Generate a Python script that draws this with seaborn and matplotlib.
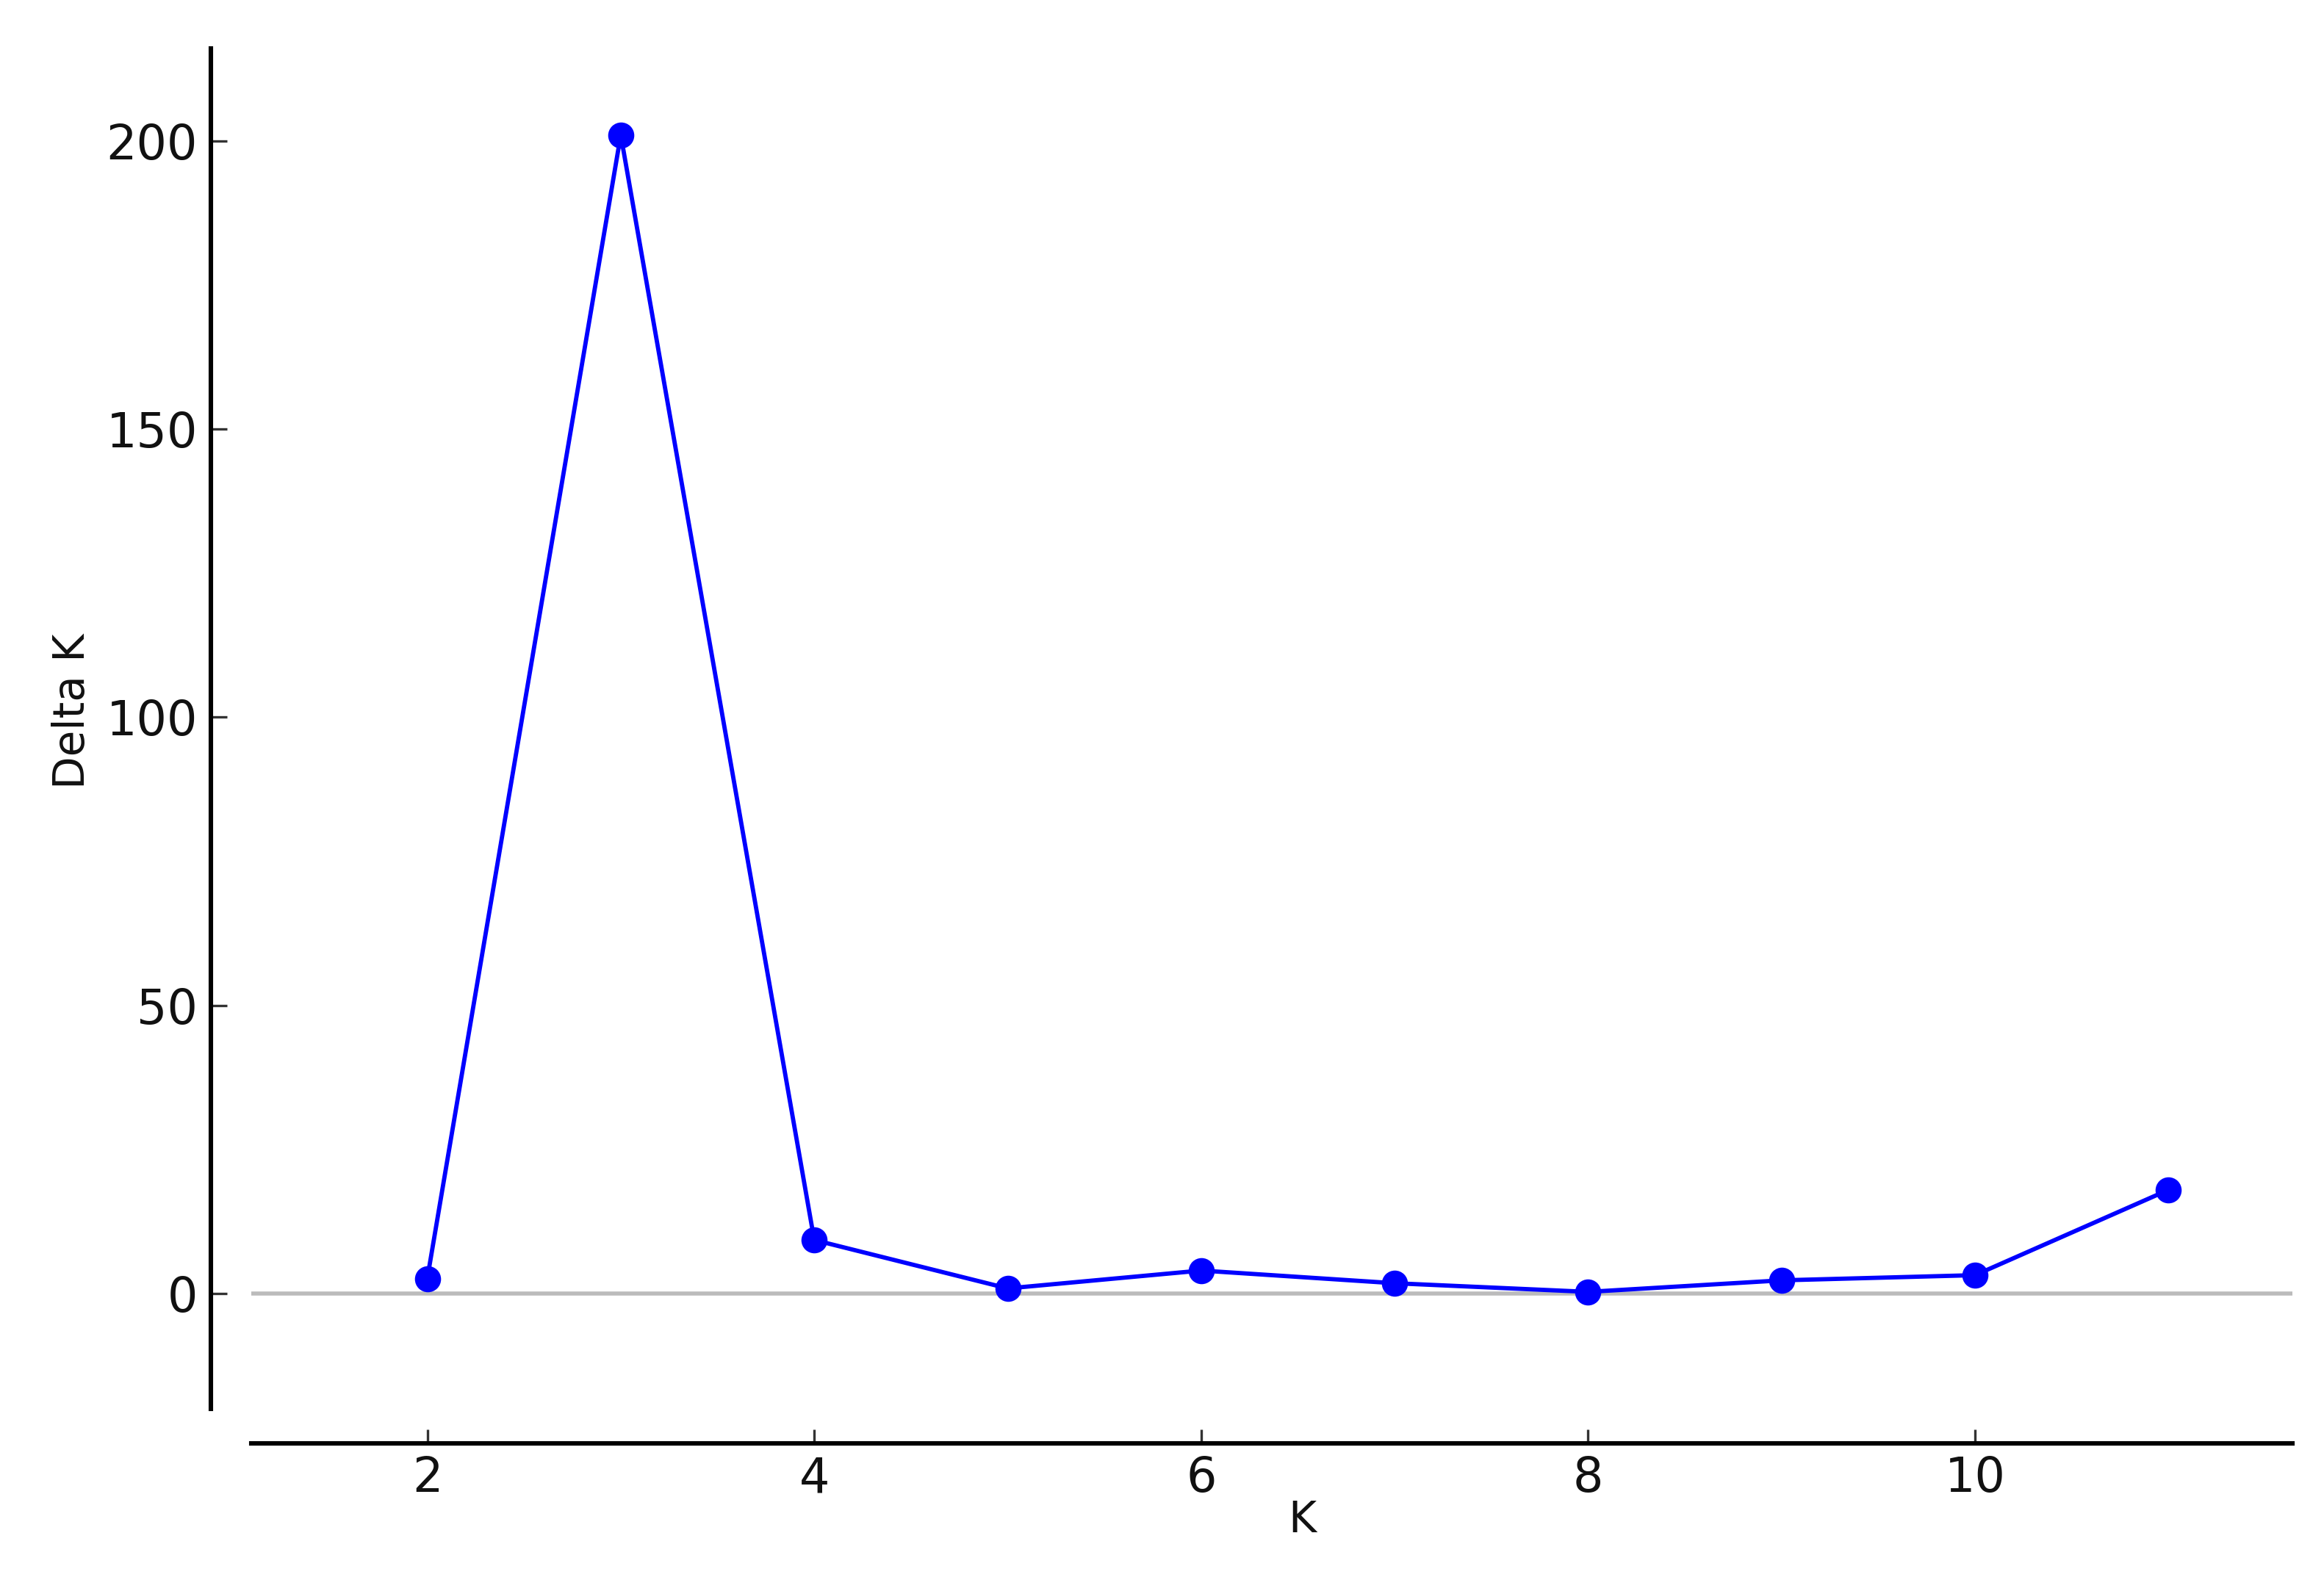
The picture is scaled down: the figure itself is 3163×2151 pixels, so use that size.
import matplotlib
matplotlib.use("Agg")
import matplotlib.pyplot as plt
import seaborn as sns
import pandas as pd

# Data
k_values = [2, 3, 4, 5, 6, 7, 8, 9, 10, 11]
delta_k = [2.6, 201.0, 9.3, 0.9, 4.0, 1.8, 0.3, 2.3, 3.2, 18.0]
x_ticks = [2, 4, 6, 8, 10]
y_ticks = [0, 50, 100, 150, 200]

df = pd.DataFrame({"K": k_values, "Delta K": delta_k})

sns.set_style("ticks")
plt.rcParams["font.family"] = ["DejaVu Sans"]

DPI = 200
fig = plt.figure(figsize=(3163 / DPI, 2151 / DPI), dpi=DPI)
ax = fig.add_axes([0.1081, 0.1083, 0.9864 - 0.1081, 0.9693 - 0.1083])

ax.axhline(0, color="#bbbbbb", lw=2.0, zorder=1)
sns.lineplot(data=df, x="K", y="Delta K", ax=ax, color="#0000ff", lw=2.1,
             marker="o", markersize=12.8, markeredgewidth=0, zorder=3)

ax.set_xlim(1.09, 11.64)
ax.set_ylim(-20, 216)
ax.set_xticks(x_ticks)
ax.set_yticks(y_ticks)

for side in ["top", "right"]:
    ax.spines[side].set_visible(False)
ax.spines["left"].set_position(("outward", 19.8))
ax.spines["bottom"].set_position(("outward", 16.9))
for side in ["left", "bottom"]:
    ax.spines[side].set_linewidth(2.2)
    ax.spines[side].set_color("black")

ax.tick_params(axis="y", direction="in", length=7.9, width=1.2, color="#333333",
               labelsize=23.5, pad=6.5, labelcolor="#111111")
ax.tick_params(axis="x", direction="in", length=6.8, width=1.2, color="#333333",
               labelsize=23.5, pad=5.8, labelcolor="#111111")

ax.set_xlabel("K", fontsize=20.9, color="#111111")
ax.set_ylabel("Delta K", fontsize=20.9, color="#111111")
ax.xaxis.set_label_coords(0.515, -0.0664)
ax.yaxis.set_label_coords(-0.0774, 0.513)

fig.savefig("out.png", dpi=DPI, facecolor="white")
